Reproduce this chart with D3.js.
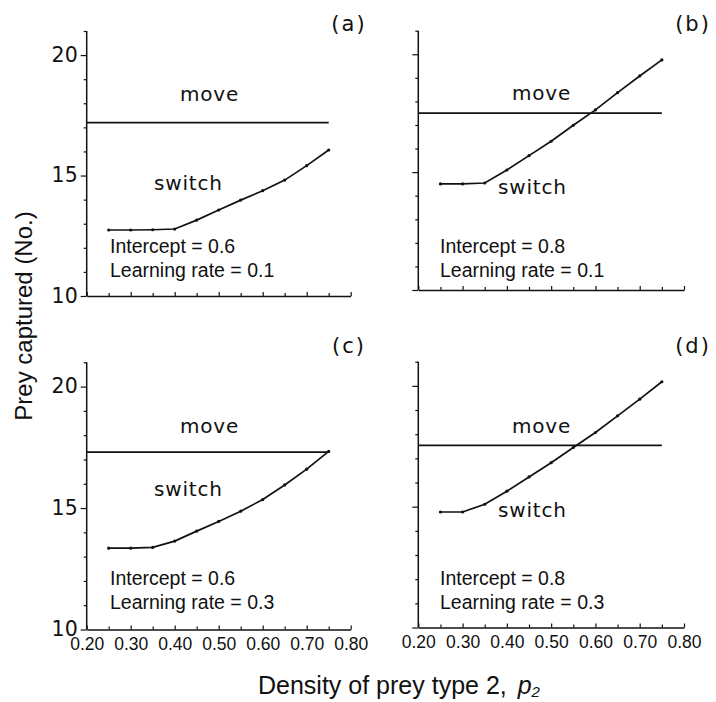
<!DOCTYPE html>
<html>
<head>
<meta charset="utf-8">
<script src="https://cdn.jsdelivr.net/npm/d3@7/dist/d3.min.js"></script>
<style>
  html, body { margin: 0; padding: 0; background: #fff; }
  svg { display: block; }
</style>
</head>
<body>
<svg id="chart" width="716" height="702"></svg>
<script>
// ---------------- DATA ----------------
const densities = [0.25, 0.30, 0.35, 0.40, 0.45, 0.50, 0.55, 0.60, 0.65, 0.70, 0.75];
const moveStart = 0.20, moveEnd = 0.75;

const moveA = 17.2;
const switchA = [12.74, 12.74, 12.75, 12.78, 13.15, 13.57, 13.98, 14.37, 14.81, 15.41, 16.06];

const moveB = 17.5;
const switchB = [14.5, 14.5, 14.54, 15.09, 15.70, 16.31, 16.99, 17.64, 18.37, 19.08, 19.76];

const moveC = 17.3;
const switchC = [13.35, 13.35, 13.38, 13.64, 14.05, 14.45, 14.87, 15.35, 15.95, 16.6, 17.33];

const moveD = 17.54;
const switchD = [14.78, 14.78, 15.10, 15.64, 16.23, 16.82, 17.45, 18.07, 18.76, 19.45, 20.17];

const panelLabels = ["(a)", "(b)", "(c)", "(d)"];
const intercepts = ["Intercept = 0.6", "Intercept = 0.8", "Intercept = 0.6", "Intercept = 0.8"];
const learningRates = ["Learning rate = 0.1", "Learning rate = 0.1", "Learning rate = 0.3", "Learning rate = 0.3"];

const xMajorTicks = [0.20, 0.30, 0.40, 0.50, 0.60, 0.70, 0.80];
const xMinorTicks = [0.25, 0.35, 0.45, 0.55, 0.65, 0.75];
const yMajorTicks = [10, 15, 20];
const yMinorTicks = [11, 12, 13, 14, 16, 17, 18, 19, 21];
const xDomain = [0.20, 0.80];
const yDomain = [10, 21];

const yTitle = "Prey captured (No.)";
const xTitle = "Density of prey type 2, ";

// ---------------- LAYOUT ----------------
const layout = [
  { left: 86.7, right: 350.7, top: 31, bottom: 296, yLabels: true, xLabels: false,
    tag: [349, 31], move: [180, 100.7], sw: [154, 190], inter: [110, 252.7], lr: [110, 276.7] },
  { left: 418.3, right: 684, top: 30.7, bottom: 290, yLabels: false, xLabels: false,
    tag: [693, 31], move: [512, 100], sw: [498, 194], inter: [440, 253], lr: [440, 277] },
  { left: 86.7, right: 350.7, top: 362.3, bottom: 629.5, yLabels: true, xLabels: true,
    tag: [349, 353], move: [180, 432.7], sw: [154, 496], inter: [110, 585], lr: [110, 608.5] },
  { left: 418.3, right: 684, top: 361.7, bottom: 627.5, yLabels: false, xLabels: true,
    tag: [693, 353], move: [512, 433], sw: [498, 517], inter: [440, 585], lr: [440, 608.5] }
];

const moves = [moveA, moveB, moveC, moveD];
const switches = [switchA, switchB, switchC, switchD];

const svg = d3.select("#chart");
const gothic = "'DejaVu Sans', sans-serif";
const helv = "'Liberation Sans', Arial, sans-serif";

layout.forEach((L, i) => {
  const x = d3.scaleLinear().domain(xDomain).range([L.left, L.right]);
  const y = d3.scaleLinear().domain(yDomain).range([L.bottom, L.top]);
  const g = svg.append("g");

  // y axis (major)
  const yAx = g.append("g").attr("transform", `translate(${L.left},0)`)
    .call(d3.axisLeft(y).tickValues(yMajorTicks).tickSize(6).tickPadding(3)
      .tickFormat(L.yLabels ? d3.format("d") : () => ""));
  yAx.select(".domain").attr("d", `M0,${L.bottom}V${L.top}`);
  // y minor
  g.append("g").attr("transform", `translate(${L.left},0)`)
    .call(d3.axisLeft(y).tickValues(yMinorTicks).tickSize(3).tickFormat(() => ""))
    .select(".domain").remove();

  // x axis major
  const xAx = g.append("g").attr("transform", `translate(0,${L.bottom})`)
    .call(d3.axisBottom(x).tickValues(xMajorTicks).tickSizeInner(-4).tickSizeOuter(0).tickPadding(9.5)
      .tickFormat(L.xLabels ? d3.format(".2f") : () => ""));
  g.append("g").attr("transform", `translate(0,${L.bottom})`)
    .call(d3.axisBottom(x).tickValues(xMinorTicks).tickSizeInner(-3).tickSizeOuter(0).tickFormat(() => ""))
    .select(".domain").remove();

  g.selectAll(".domain").attr("stroke", "#111").attr("stroke-width", 1.5);
  g.selectAll(".tick line").attr("stroke", "#111").attr("stroke-width", 1.2);
  yAx.selectAll(".tick text").attr("font-family", gothic).attr("font-size", 20.5)
    .attr("fill", "#111").attr("dy", "0.3em");
  xAx.selectAll(".tick text").attr("font-family", helv).attr("font-size", 17.5)
    .attr("fill", "#111").attr("dy", "0.6em");

  // move line
  const line = d3.line().x(d => x(d[0])).y(d => y(d[1]));
  g.append("path").datum([[moveStart, moves[i]], [moveEnd, moves[i]]])
    .attr("d", line).attr("fill", "none").attr("stroke", "#111").attr("stroke-width", 1.7);

  // switch line
  const pts = densities.map((d, k) => [d, switches[i][k]]);
  g.append("path").datum(pts).attr("d", line).attr("fill", "none")
    .attr("stroke", "#111").attr("stroke-width", 1.7);
  g.selectAll("circle.pt").data(pts).enter().append("circle")
    .attr("class", "pt").attr("cx", d => x(d[0])).attr("cy", d => y(d[1]))
    .attr("r", 1.6).attr("fill", "#111");

  // annotations
  g.append("text").attr("x", L.tag[0]).attr("y", L.tag[1]).attr("text-anchor", "middle")
    .attr("font-family", gothic).attr("font-size", 21).attr("letter-spacing", 2)
    .attr("fill", "#111").text(panelLabels[i]);
  g.append("text").attr("x", L.move[0]).attr("y", L.move[1])
    .attr("font-family", gothic).attr("font-size", 20).attr("letter-spacing", 0.8)
    .attr("fill", "#111").text("move");
  g.append("text").attr("x", L.sw[0]).attr("y", L.sw[1])
    .attr("font-family", gothic).attr("font-size", 20).attr("letter-spacing", 0.8)
    .attr("fill", "#111").text("switch");
  g.append("text").attr("x", L.inter[0]).attr("y", L.inter[1])
    .attr("font-family", helv).attr("font-size", 19.5).attr("fill", "#111").text(intercepts[i]);
  g.append("text").attr("x", L.lr[0]).attr("y", L.lr[1])
    .attr("font-family", helv).attr("font-size", 19.5).attr("fill", "#111").text(learningRates[i]);
});

// axis titles
svg.append("text")
  .attr("transform", "translate(32,316) rotate(-90)")
  .attr("text-anchor", "middle")
  .attr("font-family", helv).attr("font-size", 24).attr("fill", "#111")
  .text(yTitle);

const xt = svg.append("text")
  .attr("x", 258).attr("y", 694)
  .attr("font-family", helv).attr("font-size", 25).attr("fill", "#111");
xt.append("tspan").text(xTitle);
xt.append("tspan").attr("font-style", "italic").attr("dx", 4).text("p");
xt.append("tspan").attr("font-style", "italic").attr("font-size", 15).attr("dy", 3).text("2");
</script>
</body>
</html>
